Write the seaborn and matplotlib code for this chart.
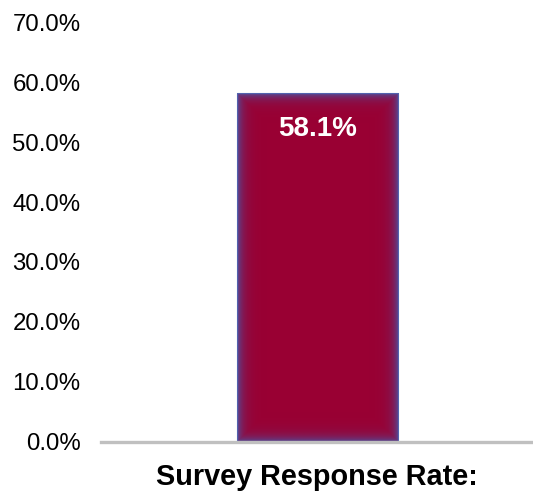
import numpy as np
import pandas as pd
import matplotlib
matplotlib.use("Agg")
import matplotlib.pyplot as plt
import seaborn as sns
from matplotlib.ticker import FuncFormatter

categories = ["Survey Response Rate:"]
values = [0.581]
value_labels = ["58.1%"]
y_ticks = [0.0, 0.1, 0.2, 0.3, 0.4, 0.5, 0.6, 0.7]

sns.set_theme(style="white")
plt.rcParams["font.family"] = ["Liberation Sans", "DejaVu Sans"]

fig = plt.figure(figsize=(5.33, 4.91), dpi=100)
ax = fig.add_axes([0.19, 0.1, 0.81, 0.855])

df = pd.DataFrame({"category": categories, "value": values})
sns.barplot(data=df, x="category", y="value", color="#990033",
            saturation=1, width=0.373, ax=ax,
            edgecolor="#8a8cc8", linewidth=0.8)

ax.set_xlim(-0.5, 0.5)
ax.set_ylim(0, 0.7)
ax.set_yticks(y_ticks)
ax.yaxis.set_major_formatter(FuncFormatter(lambda v, _: f"{v * 100:.1f}%"))
ax.tick_params(axis="y", length=0, pad=15, labelsize=17.3, labelcolor="black")
ax.tick_params(axis="x", length=0, pad=15.5, labelcolor="black")
ax.set_xticks([0])
ax.set_xticklabels(categories, fontsize=20.8, fontweight="bold")
ax.set_xlabel("")
ax.set_ylabel("")
for side in ["left", "right", "top"]:
    ax.spines[side].set_visible(False)
ax.spines["bottom"].set_color("#c0c0c0")
ax.spines["bottom"].set_linewidth(2.4)
ax.spines["bottom"].set_zorder(5)

# Soft bluish inner glow along the edges of each bar
fig.canvas.draw()
for patch in ax.patches:
    x0, y0 = patch.get_x(), patch.get_y()
    w, h = patch.get_width(), patch.get_height()
    bb = patch.get_window_extent()
    nx, ny = max(int(bb.width), 2), max(int(bb.height), 2)
    xs = np.arange(nx) + 0.5
    ys = np.arange(ny) + 0.5
    dx = np.minimum(xs, nx - xs)[None, :]
    dy = np.minimum(ys, ny - ys)[:, None]
    d = np.minimum(dx, dy)
    alpha = np.clip(np.exp(-d / 5.5), 0, 1) * 0.9
    glow = np.zeros((ny, nx, 4))
    glow[..., 0] = 70 / 255
    glow[..., 1] = 90 / 255
    glow[..., 2] = 170 / 255
    glow[..., 3] = alpha
    ax.imshow(glow, extent=(x0, x0 + w, y0, y0 + h), aspect="auto",
              interpolation="bilinear", zorder=patch.get_zorder() + 0.1,
              origin="lower")
    ax.text(x0 + w / 2, values[0] - 0.06, value_labels[0], ha="center",
            va="center", color="white", fontsize=20, fontweight="bold",
            zorder=6)

ax.set_xlim(-0.5, 0.5)
ax.set_ylim(0, 0.7)

fig.savefig("out.png", dpi=100)
